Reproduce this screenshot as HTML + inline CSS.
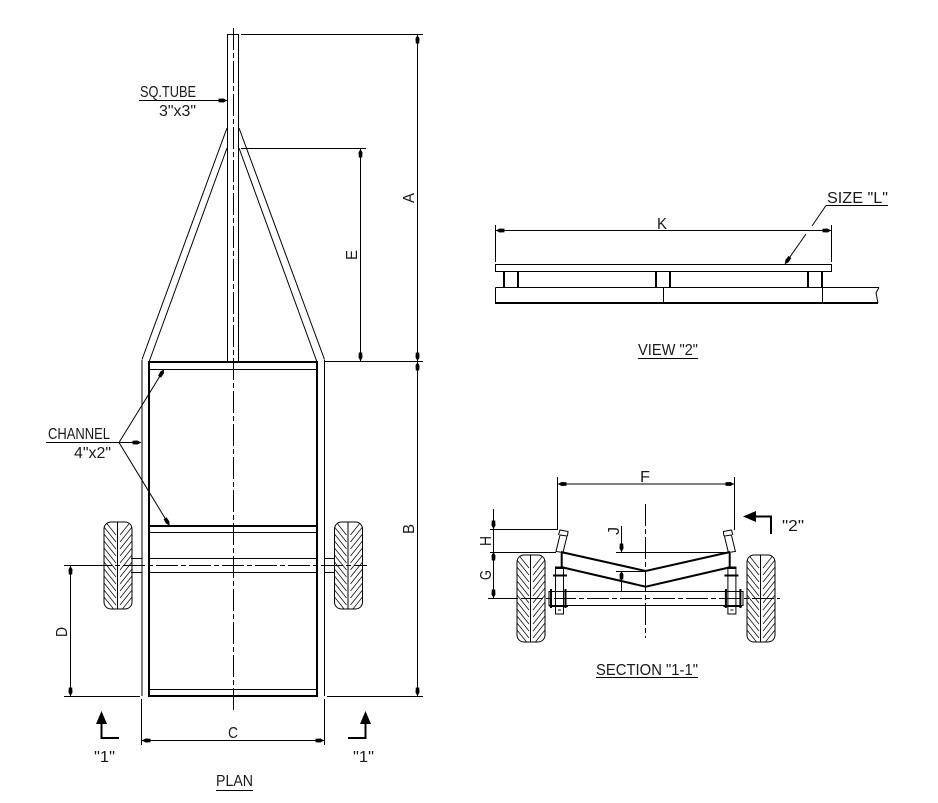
<!DOCTYPE html>
<html lang="en">
<head>
<meta charset="utf-8">
<title>Trailer plan, view and section</title>
<style>
html,body{margin:0;padding:0;background:#fff}
svg{display:block}
text{font-family:"Liberation Sans",sans-serif;font-size:15.5px;fill:#1a1a1a;stroke:none}
.t{stroke:#000;stroke-width:1;fill:none}
.k{stroke:#000;stroke-width:2;fill:none}
.c{stroke:#000;stroke-width:1;fill:none;stroke-dasharray:22 3 5 3}
.h{stroke:#111;stroke-width:.8;fill:none}
</style>
</head>
<body>
<svg xmlns="http://www.w3.org/2000/svg" width="938" height="803" viewBox="0 0 938 803">
<defs>
<marker id="a" markerUnits="userSpaceOnUse" markerWidth="9" markerHeight="5" refX="9" refY="2.5" orient="auto-start-reverse"><path d="M9,2.5 L5.5,.5 L.5,.8 L.5,4.2 L5.5,4.5Z" fill="#000"/></marker>
<clipPath id="cw"><rect x="0" y="0" width="28" height="87" rx="7"/></clipPath>
<g id="w">
<g clip-path="url(#cw)">
<path class="h" d="M0 -2l12 15M0 5l12 15M0 12l12 15M0 19l12 15M0 26l12 15M0 33l12 15M0 40l12 15M0 47l12 15M0 54l12 15M0 61l12 15M0 68l12 15M0 75l12 15"/>
<path class="h" d="M28 -2l-12 15M28 5l-12 15M28 12l-12 15M28 19l-12 15M28 26l-12 15M28 33l-12 15M28 40l-12 15M28 47l-12 15M28 54l-12 15M28 61l-12 15M28 68l-12 15M28 75l-12 15"/>
</g>
<rect x="0" y="0" width="28" height="87" rx="7" class="t"/>
<line x1="13.5" y1="0" x2="13.5" y2="87" class="t"/>
</g>
<g id="h">
<polygon points="560,535 567,536 563,552.5 556,551.5" class="t"/>
<path d="M558.5 535 L560 530 L568 531.5 L567.5 536" class="t"/>
<line x1="561.7" y1="553" x2="561.7" y2="567" class="k"/>
<path d="M555.5 567H563.5V614H555.5Z" class="t"/>
<path d="M555 568H564" class="k"/>
<line x1="553" y1="575.5" x2="567" y2="575.5" class="k" stroke-width="3"/>
<line x1="551" y1="589" x2="551" y2="608" class="k"/>
<line x1="565.5" y1="589" x2="565.5" y2="608" class="k"/>
<line x1="549.5" y1="606" x2="568" y2="606" class="k"/>
<path d="M558 610H561" class="t"/>
</g>
</defs>

<!-- PLAN -->
<g shape-rendering="crispEdges">
<rect x="227.5" y="34.5" width="11" height="327" class="t"/>
<line x1="142" y1="360" x2="142" y2="696" class="t"/>
<line x1="324.5" y1="360" x2="324.5" y2="696" class="t"/>
<rect x="149" y="362" width="168" height="334" class="k"/>
<line x1="149" y1="369.5" x2="317" y2="369.5" class="t"/>
<line x1="149" y1="526" x2="317" y2="526" class="k"/>
<line x1="149" y1="532.5" x2="317" y2="532.5" class="t"/>
<line x1="149" y1="558.5" x2="317" y2="558.5" class="t"/>
<line x1="149" y1="572.5" x2="317" y2="572.5" class="t"/>
<line x1="149" y1="689.5" x2="317" y2="689.5" class="t"/>
<path d="M131 558.5H142M131 572.5H142M325 558.5H335M325 572.5H335" class="t"/>
</g>
<path d="M227 128 L142 359.5 M239 128 L324.5 359.5" class="t"/>
<path d="M227 148 L149 362 M239 148 L317 362" class="t" stroke-width="1.5"/>
<use href="#w" x="104" y="522"/>
<use href="#w" x="334.5" y="522"/>
<line x1="233.5" y1="28" x2="233.5" y2="711" class="c"/>
<line x1="90" y1="565.5" x2="367" y2="565.5" class="c"/>

<!-- Plan dimensions -->
<g shape-rendering="crispEdges">
<line x1="241" y1="34.5" x2="423" y2="34.5" class="t"/>
<line x1="241" y1="148.5" x2="366" y2="148.5" class="t"/>
<line x1="325" y1="361.5" x2="423" y2="361.5" class="t"/>
<line x1="64" y1="696.5" x2="140" y2="696.5" class="t"/>
<line x1="327" y1="696.5" x2="423" y2="696.5" class="t"/>
<line x1="64" y1="565.5" x2="90" y2="565.5" class="t"/>
<line x1="141.5" y1="699" x2="141.5" y2="745" class="t"/>
<line x1="324.5" y1="699" x2="324.5" y2="745" class="t"/>
</g>
<line x1="417.5" y1="35" x2="417.5" y2="361" class="t" marker-start="url(#a)" marker-end="url(#a)"/>
<line x1="417.5" y1="362" x2="417.5" y2="696" class="t" marker-start="url(#a)" marker-end="url(#a)"/>
<line x1="360.5" y1="149" x2="360.5" y2="361" class="t" marker-start="url(#a)" marker-end="url(#a)"/>
<line x1="70.5" y1="566" x2="70.5" y2="696" class="t" marker-start="url(#a)" marker-end="url(#a)"/>
<line x1="142" y1="740.5" x2="324" y2="740.5" class="t" marker-start="url(#a)" marker-end="url(#a)"/>
<text transform="translate(414,203) rotate(-90)" textLength="10" lengthAdjust="spacingAndGlyphs">A</text>
<text transform="translate(414,534) rotate(-90)" textLength="10" lengthAdjust="spacingAndGlyphs">B</text>
<text transform="translate(357,260) rotate(-90)" textLength="10" lengthAdjust="spacingAndGlyphs">E</text>
<text transform="translate(67,637) rotate(-90)" textLength="10" lengthAdjust="spacingAndGlyphs">D</text>
<text x="228" y="738" textLength="10" lengthAdjust="spacingAndGlyphs">C</text>

<!-- Tube label -->
<line x1="139" y1="100.5" x2="227" y2="100.5" class="t" marker-end="url(#a)"/>
<text x="140" y="97" textLength="56" lengthAdjust="spacingAndGlyphs">SQ.TUBE</text>
<text x="159" y="116" textLength="37" lengthAdjust="spacingAndGlyphs">3"x3"</text>

<!-- Channel label -->
<line x1="46" y1="442.5" x2="141" y2="442.5" class="t" marker-end="url(#a)"/>
<path d="M164 369.5 L119 442.5 L169.5 525.5" class="t" marker-start="url(#a)" marker-end="url(#a)"/>
<text x="48" y="439" textLength="62" lengthAdjust="spacingAndGlyphs">CHANNEL</text>
<text x="74" y="458" textLength="37" lengthAdjust="spacingAndGlyphs">4"x2"</text>

<!-- Section markers -->
<path d="M101.5 722 V738 H119" class="k"/>
<polygon points="101.5,711 96,724 107,724" fill="#000"/>
<path d="M365.5 722 V738 H348" class="k"/>
<polygon points="365.5,711 360,724 371,724" fill="#000"/>
<text x="94" y="762" textLength="21" lengthAdjust="spacingAndGlyphs">"1"</text>
<text x="353" y="762" textLength="21" lengthAdjust="spacingAndGlyphs">"1"</text>
<text x="216" y="786" textLength="37" lengthAdjust="spacingAndGlyphs">PLAN</text>
<line x1="216" y1="790.5" x2="253" y2="790.5" class="t" shape-rendering="crispEdges"/>

<!-- VIEW 2 -->
<g shape-rendering="crispEdges">
<rect x="495.5" y="264.5" width="336" height="7" class="t"/>
<path d="M504 271.5V288M518 271.5V288M656 271.5V288M670 271.5V288M808 271.5V288M822 271.5V288" class="k"/>
<path d="M495.5 287.5H879" class="t"/>
<path d="M495.5 287.5V303" class="t"/>
<path d="M495 303H878" class="k"/>
<path d="M663.5 288V303M822.5 288V303" class="t"/>
<path d="M495.5 225V262M831.5 225V262" class="t"/>
<path d="M826 205.5H888" class="t"/>
</g>
<path d="M879 287.5 Q877 291 876 293 Q877 298 878 303" class="t"/>
<line x1="496" y1="230.5" x2="831" y2="230.5" class="t" marker-start="url(#a)" marker-end="url(#a)"/>
<line x1="826" y1="205.5" x2="812" y2="226" class="t"/>
<line x1="806" y1="234" x2="785" y2="264" class="t" marker-end="url(#a)"/>
<text x="657" y="229" textLength="10" lengthAdjust="spacingAndGlyphs">K</text>
<text x="827" y="203" textLength="61" lengthAdjust="spacingAndGlyphs">SIZE "L"</text>
<text x="638" y="355" textLength="60" lengthAdjust="spacingAndGlyphs">VIEW "2"</text>
<line x1="638" y1="358.5" x2="698" y2="358.5" class="t" shape-rendering="crispEdges"/>

<!-- SECTION 1-1 -->
<use href="#w" x="517" y="555"/>
<use href="#w" x="747" y="555"/>
<g shape-rendering="crispEdges">
<path d="M549 591.5H743M549 605.5H743M549 591V606M743 591V606" class="t"/>
<path d="M557.5 477V530M734.5 477V530" class="t"/>
<path d="M490 529.5H558M490 552.5H556M490 598.5H516" class="t"/>
<path d="M616 552.5H730M616 571.5H646" class="t"/>
</g>
<line x1="645.5" y1="504" x2="645.5" y2="638" class="c"/>
<line x1="488" y1="598.5" x2="780" y2="598.5" class="c"/>
<use href="#h"/>
<use href="#h" transform="translate(1291.4,0) scale(-1,1)"/>
<path d="M561 552 L645.7 571 L730 552" class="k" stroke-width="1.7"/>
<path d="M563 567.5 L645.7 586.7 L729 567.5" class="k" stroke-width="1.7"/>
<line x1="558" y1="484" x2="734" y2="484" class="t" marker-start="url(#a)" marker-end="url(#a)"/>
<line x1="493.5" y1="509" x2="493.5" y2="529" class="t" marker-end="url(#a)"/>
<line x1="493.5" y1="529" x2="493.5" y2="552" class="t"/>
<line x1="493.5" y1="598" x2="493.5" y2="552" class="t" marker-end="url(#a)"/>
<line x1="493.5" y1="552" x2="493.5" y2="598" class="t" marker-end="url(#a)"/>
<line x1="621.5" y1="526" x2="621.5" y2="552" class="t" marker-end="url(#a)"/>
<line x1="621.5" y1="591" x2="621.5" y2="571" class="t" marker-end="url(#a)"/>
<text x="640" y="482" textLength="10" lengthAdjust="spacingAndGlyphs">F</text>
<text transform="translate(491,546) rotate(-90)" textLength="10" lengthAdjust="spacingAndGlyphs">H</text>
<text transform="translate(491,580) rotate(-90)" textLength="10" lengthAdjust="spacingAndGlyphs">G</text>
<text transform="translate(619,535) rotate(-90)" textLength="8" lengthAdjust="spacingAndGlyphs">J</text>
<path d="M755 516.5H771V534" class="k"/>
<polygon points="743,516.5 756,511 756,522" fill="#000"/>
<text x="782" y="531" textLength="22" lengthAdjust="spacingAndGlyphs">"2"</text>
<text x="596" y="675" textLength="102" lengthAdjust="spacingAndGlyphs">SECTION "1-1"</text>
<line x1="596" y1="677.5" x2="698" y2="677.5" class="t" shape-rendering="crispEdges"/>
</svg>
</body>
</html>
